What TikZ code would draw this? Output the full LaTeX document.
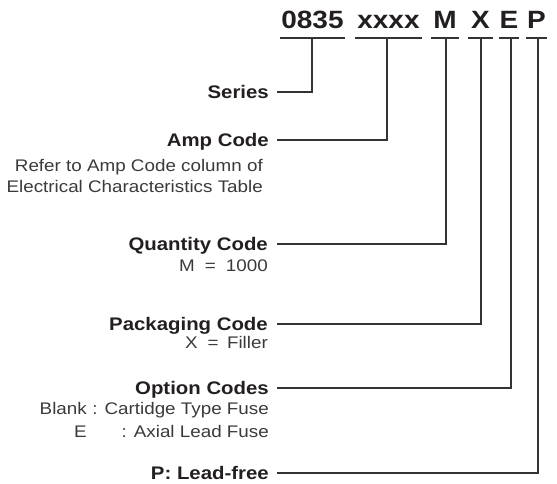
\documentclass[tikz,border=0pt]{standalone}
\usepackage{fontspec}
\setmainfont{Liberation Sans}[FakeStretch=1.12]
\definecolor{ink}{HTML}{231F20}
\definecolor{lite}{HTML}{3A3A3A}
\definecolor{wirec}{HTML}{333333}
\begin{document}
\begin{tikzpicture}[x=1pt,y=-1pt,
  code/.style={font=\fontsize{25}{25}\selectfont\bfseries, text=ink, inner sep=0pt, anchor=base},
  lab/.style={font=\fontsize{18.2}{20}\selectfont\bfseries, text=ink, inner sep=0pt, anchor=east, text height=12pt, text depth=0pt},
  sub/.style={font=\fontsize{16.8}{18}\selectfont, text=lite, inner sep=0pt, anchor=base east},
  wire/.style={draw=wirec, line width=1.5pt},
  uline/.style={draw=wirec, line width=1.8pt}]
\useasboundingbox (0,0) rectangle (557,483);

% code parts
\node[code] (c1) at (312.5,28) {0835};
\node[code] (c2) at (388.5,28) {xxxx};
\node[code] (c3) at (445,28) {M};
\node[code] (c4) at (480.5,28) {X};
\node[code] (c5) at (509,28) {E};
\node[code] (c6) at (536.5,28) {P};

% underlines
\draw[uline] (280,38) -- (345,38);
\draw[uline] (355,38) -- (422,38);
\draw[uline] (431,38) -- (459,38);
\draw[uline] (468,38) -- (493,38);
\draw[uline] (499,38) -- (519,38);
\draw[uline] (526,38) -- (547,38);

% junctions
\coordinate (j1) at (312,38);
\coordinate (j2) at (387,38);
\coordinate (j3) at (446,38);
\coordinate (j4) at (481,38);
\coordinate (j5) at (511,38);
\coordinate (j6) at (538,38);

% labels
\node[lab] (l1) at (269,92) {Series};
\node[lab] (l2) at (269,140) {Amp Code};
\node[lab] (l3) at (268,244) {Quantity Code};
\node[lab] (l4) at (268,324) {Packaging Code};
\node[lab] (l5) at (269,388) {Option Codes};
\node[lab] (l6) at (269,473) {P: Lead-free};

% connectors
\draw[wire] (j1) |- ([xshift=8pt]l1.east);
\draw[wire] (j2) |- ([xshift=8pt]l2.east);
\draw[wire] (j3) |- ([xshift=9pt]l3.east);
\draw[wire] (j4) |- ([xshift=9pt]l4.east);
\draw[wire] (j5) |- ([xshift=8pt]l5.east);
\draw[wire] (j6) |- ([xshift=8pt]l6.east);

% descriptions
\node[sub] (s1) at (263,171) {Refer to Amp Code column of};
\node[sub] (s2) at (263,192) {Electrical Characteristics Table};
\node[sub] (s3) at (268,271) {M\hspace{0.6em}=\hspace{0.6em}1000};
\node[sub] (s4) at (268,348) {X\hspace{0.6em}=\hspace{0.5em}Filler};
\node[sub] (s5b) at (87,414) {Blank};
\node[sub] (s5) at (269,414) {: Cartidge Type Fuse};
\node[sub, anchor=base west] (s6b) at (74,437) {E};
\node[sub] (s6) at (269,437) {: Axial Lead Fuse};
\end{tikzpicture}
\end{document}
